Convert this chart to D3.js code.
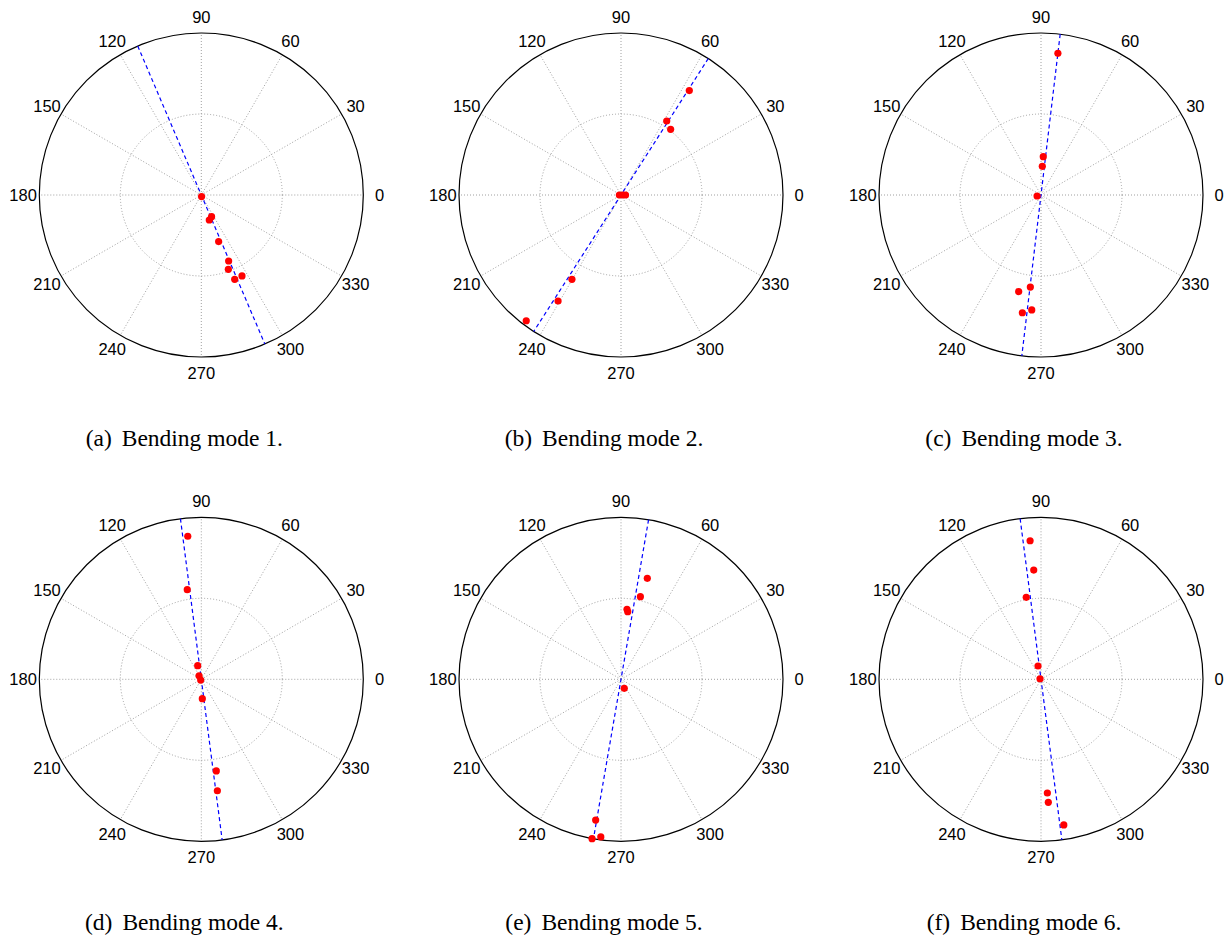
<html>
<head>
    <script src="https://d3js.org/d3.v7.min.js"></script>
    <style>
        body { margin: 0; background: #fff; }
    </style>
</head>
<body>
<div id="vis"></div>
<script>

    // Mode captions
    var captionLetters = ["(a)", "(b)", "(c)", "(d)", "(e)", "(f)"];
    var captionTexts = ["Bending mode 1.", "Bending mode 2.", "Bending mode 3.",
                        "Bending mode 4.", "Bending mode 5.", "Bending mode 6."];

    // Angle tick labels (degrees)
    var angleTicks = [0, 30, 60, 90, 120, 150, 180, 210, 240, 270, 300, 330];
    // Radial rings (fraction of max)
    var ringValues = [0.5, 1];

    // Measured points: angle (deg) and normalised amplitude
    var mode1Theta = [280, 295.4, 287.7, 290.4, 292.5, 290, 291.6, 296.7];
    var mode1R     = [0.01, 0.148, 0.162, 0.307, 0.441, 0.488, 0.56, 0.559];
    var mode2Theta = [56.8, 58.3, 52.9, 180, 0, 0, 239.8, 239.3, 233];
    var mode2R     = [0.77, 0.537, 0.508, 0.01, 0.012, 0.028, 0.602, 0.761, 0.972];
    var mode3Theta = [83.2, 86.6, 87.4, 194, 263.4, 257, 265.4, 261];
    var mode3R     = [0.881, 0.237, 0.177, 0.025, 0.572, 0.612, 0.712, 0.736];
    var mode4Theta = [95.4, 98.9, 104.8, 122, 230, 273, 279.3, 278.2];
    var mode4R     = [0.887, 0.56, 0.087, 0.026, 0.006, 0.12, 0.573, 0.695];
    var mode5Theta = [75.4, 76.8, 85.1, 84.3, 290, 259.8, 259.7, 262.7];
    var mode5R     = [0.644, 0.524, 0.434, 0.419, 0.059, 0.883, 1.0, 0.981];
    var mode6Theta = [94.5, 93.8, 100.2, 102.7, 150, 273.2, 273.4, 278.9];
    var mode6R     = [0.858, 0.676, 0.514, 0.084, 0.007, 0.703, 0.761, 0.91];

    // Fitted line direction (deg) for each mode
    var fitAngles = [113.1, 57.4, 83.2, 97.4, 80.2, 97.4];

    var thetas = [mode1Theta, mode2Theta, mode3Theta, mode4Theta, mode5Theta, mode6Theta];
    var radii = [mode1R, mode2R, mode3R, mode4R, mode5R, mode6R];

    var W = 1231, H = 940;
    var centersX = [201.3, 621, 1041];
    var centersY = [195, 679.3];
    var R = 162;

    var svg = d3.select("#vis")
        .append("svg")
        .attr("width", W)
        .attr("height", H);

    var r = d3.scaleLinear().domain([0, 1]).range([0, R]);

    function px(deg, val) {
        var a = deg * Math.PI / 180;
        return [r(val) * Math.cos(a), -r(val) * Math.sin(a)];
    }

    for (var i = 0; i < 6; i++) {
        var cx = centersX[i % 3],
            cy = centersY[Math.floor(i / 3)];

        var g = svg.append("g")
            .attr("transform", "translate(" + cx + "," + cy + ")");

        // spokes
        g.selectAll(".spoke")
            .data(angleTicks)
            .enter()
            .append("line")
            .attr("x1", 0).attr("y1", 0)
            .attr("x2", function (d) { return px(d, 1)[0]; })
            .attr("y2", function (d) { return px(d, 1)[1]; })
            .attr("stroke", "#a0a0a0")
            .attr("stroke-width", 1)
            .attr("stroke-dasharray", "1,2");

        // rings
        g.selectAll(".ring")
            .data(ringValues)
            .enter()
            .append("circle")
            .attr("r", function (d) { return r(d); })
            .attr("fill", "none")
            .attr("stroke", function (d) { return d === 1 ? "#000" : "#a0a0a0"; })
            .attr("stroke-width", function (d) { return d === 1 ? 1.2 : 1; })
            .attr("stroke-dasharray", function (d) { return d === 1 ? null : "1,2"; });

        // angle labels
        g.selectAll(".lab")
            .data(angleTicks)
            .enter()
            .append("text")
            .attr("x", function (d) { return px(d, 1.1)[0]; })
            .attr("y", function (d) { return px(d, 1.1)[1]; })
            .attr("dy", "0.36em")
            .attr("text-anchor", "middle")
            .style("font-family", "Arial, 'Liberation Sans', Helvetica, sans-serif")
            .style("font-size", "16.5px")
            .attr("fill", "#000")
            .text(function (d) { return d; });

        // fitted line through the origin
        var fa = fitAngles[i];
        var p1 = px(fa, 1), p2 = px(fa + 180, 1);
        g.append("line")
            .attr("x1", p1[0]).attr("y1", p1[1])
            .attr("x2", p2[0]).attr("y2", p2[1])
            .attr("stroke", "#0000ff")
            .attr("stroke-width", 1.2)
            .attr("stroke-dasharray", "4,3");

        // data points
        var pts = thetas[i].map(function (t, j) { return { t: t, v: radii[i][j] }; });
        g.selectAll(".pt")
            .data(pts)
            .enter()
            .append("circle")
            .attr("cx", function (d) { return px(d.t, d.v)[0]; })
            .attr("cy", function (d) { return px(d.t, d.v)[1]; })
            .attr("r", 3.6)
            .attr("fill", "#ff0000");

        // caption
        var cap = svg.append("text")
            .attr("x", cx - 17)
            .attr("y", cy + 251)
            .attr("text-anchor", "middle")
            .style("font-family", "'Times New Roman', 'Liberation Serif', Times, serif")
            .style("font-size", "23.5px")
            .attr("fill", "#000");
        cap.append("tspan").text(captionLetters[i]);
        cap.append("tspan").attr("dx", "10").text(captionTexts[i]);
    }

</script>
</body>
</html>
